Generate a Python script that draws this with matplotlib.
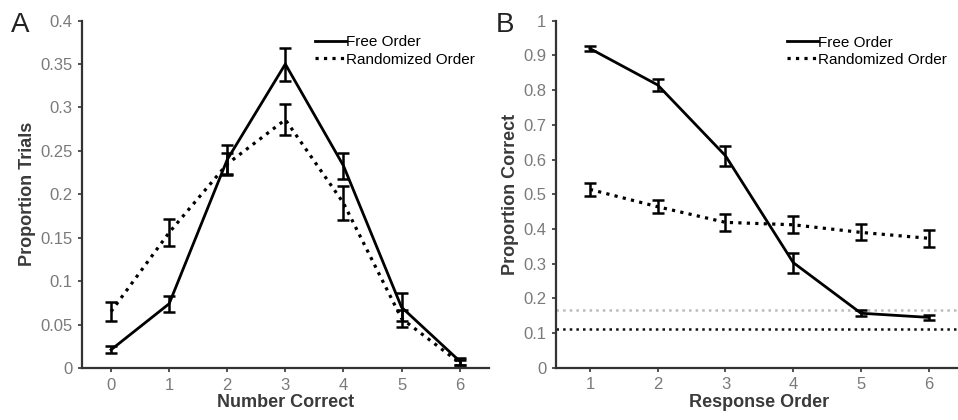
import numpy as np
import matplotlib
matplotlib.use('Agg')
import matplotlib.pyplot as plt
from matplotlib.lines import Line2D

plt.rcParams['font.family'] = ['Liberation Sans', 'DejaVu Sans']

# panel A - number correct distribution
n_correct = [0, 1, 2, 3, 4, 5, 6]
free_a = [0.021, 0.074, 0.240, 0.350, 0.233, 0.070, 0.008]
free_a_err = [0.004, 0.009, 0.017, 0.019, 0.015, 0.016, 0.004]
rand_a = [0.065, 0.156, 0.235, 0.286, 0.190, 0.057, 0.006]
rand_a_err = [0.011, 0.016, 0.013, 0.018, 0.020, 0.010, 0.003]

# panel B - accuracy by response order
resp_order = [1, 2, 3, 4, 5, 6]
free_b = [0.920, 0.815, 0.611, 0.303, 0.157, 0.145]
free_b_err = [0.007, 0.017, 0.029, 0.029, 0.008, 0.007]
rand_b = [0.514, 0.464, 0.419, 0.412, 0.390, 0.373]
rand_b_err = [0.019, 0.019, 0.025, 0.025, 0.023, 0.024]
chance_lines = [1 / 6, 1 / 9]
chance_colors = ['#bbbbbb', '#111111']

tick_col = '#7a7a7a'
lab_col = '#3a3a3a'

fig = plt.figure(figsize=(9.58, 4.2), dpi=100)
axA = fig.add_axes([0.0856, 0.1238, 0.4245, 0.827])
axB = fig.add_axes([0.5804, 0.1245, 0.4245, 0.826])


def style(ax):
    for s in ['top', 'right']:
        ax.spines[s].set_visible(False)
    for s in ['left', 'bottom']:
        ax.spines[s].set_linewidth(1.6)
        ax.spines[s].set_color('#333333')
    ax.tick_params(direction='out', length=3, width=1.2, color='#333333',
                   labelsize=12, labelcolor=tick_col, pad=4)


def draw(ax, x, f, fe, r, re, anchor):
    ax.errorbar(x, f, yerr=fe, color='black', lw=2.0, ls='-', capsize=4.5,
                capthick=1.8, elinewidth=1.8)
    ax.errorbar(x, r, yerr=re, color='black', lw=2.3, ls=':', capsize=4.5,
                capthick=1.8, elinewidth=1.8)
    handles = [Line2D([], [], color='black', lw=2.0, ls='-'),
               Line2D([], [], color='black', lw=2.3, ls=':')]
    ax.legend(handles, ['Free Order', 'Randomized Order'], loc='upper right',
              frameon=False, fontsize=11, handlelength=2.0,
              handletextpad=0.05, labelspacing=0.2, borderaxespad=0.0,
              bbox_to_anchor=anchor)


style(axA)
draw(axA, n_correct, free_a, free_a_err, rand_a, rand_a_err, (0.982, 0.975))
axA.set_xlim(-0.5, 6.5)
axA.set_ylim(0, 0.4)
axA.set_xticks(n_correct)
axA.set_yticks(np.arange(0, 0.401, 0.05))
axA.set_yticklabels(['0', '0.05', '0.1', '0.15', '0.2', '0.25', '0.3', '0.35', '0.4'])
axA.set_xlabel('Number Correct', fontsize=13, fontweight='bold', color=lab_col, labelpad=1)
axA.set_ylabel('Proportion Trials', fontsize=13, fontweight='bold', color=lab_col, labelpad=3)

style(axB)
for val, c in zip(chance_lines, chance_colors):
    axB.axhline(val, color=c, ls=':', lw=1.8)
draw(axB, resp_order, free_b, free_b_err, rand_b, rand_b_err, (0.977, 0.975))
axB.set_xlim(0.5, 6.5)
axB.set_ylim(0, 1)
axB.set_xticks(resp_order)
axB.set_yticks(np.arange(0, 1.01, 0.1))
axB.set_yticklabels(['0', '0.1', '0.2', '0.3', '0.4', '0.5', '0.6', '0.7', '0.8', '0.9', '1'])
axB.set_xlabel('Response Order', fontsize=13, fontweight='bold', color=lab_col, labelpad=1)
axB.set_ylabel('Proportion Correct', fontsize=13, fontweight='bold', color=lab_col, labelpad=3)

fig.text(0.011, 0.972, 'A', fontsize=20, va='top', ha='left', color='#222222')
fig.text(0.517, 0.972, 'B', fontsize=20, va='top', ha='left', color='#222222')

fig.savefig('out.png', dpi=100)
